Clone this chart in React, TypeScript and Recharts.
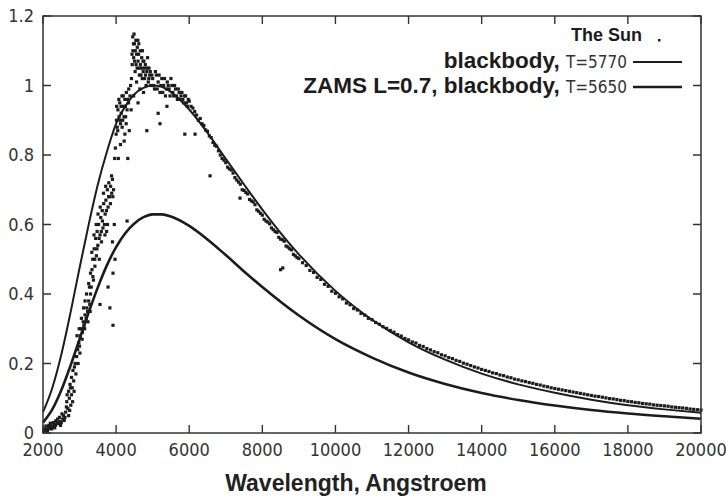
import { ComposedChart, Line, Scatter, XAxis, YAxis } from "recharts";

const WIDTH = 726;
const HEIGHT = 500;
const FONT = "'Liberation Sans', Arial, sans-serif";
const NARROW = "'Liberation Sans Narrow', 'DejaVu Sans Condensed', 'Liberation Sans', sans-serif";

// Model spectra, normalised flux vs wavelength in Angstroem
const modelWavelengths = [
  2000, 2250, 2500, 2750, 3000, 3250, 3500, 3750, 4000, 4250, 4500, 4750, 5000, 5250, 5500,
  6000, 6500, 7000, 7500, 8000, 9000, 10000, 11000, 12000, 13000, 14000, 15000, 16000, 17000,
  18000, 19000, 20000,
];
const blackbody5770 = [
  0.06, 0.128, 0.225, 0.345, 0.475, 0.6, 0.715, 0.81, 0.89, 0.94, 0.975, 0.993, 1.0, 0.996, 0.981,
  0.931, 0.864, 0.789, 0.715, 0.643, 0.514, 0.409, 0.326, 0.261, 0.211, 0.171, 0.14, 0.116, 0.096,
  0.08, 0.068, 0.058,
];
const zams5650 = [
  0.03, 0.067, 0.123, 0.193, 0.27, 0.347, 0.419, 0.483, 0.535, 0.575, 0.603, 0.621, 0.629, 0.629, 0.623,
  0.596, 0.557, 0.512, 0.465, 0.42, 0.338, 0.27, 0.217, 0.174, 0.141, 0.115, 0.095, 0.079, 0.066,
  0.056, 0.048, 0.041,
];

// Observed solar flux samples [wavelength, flux]
const sunUltraviolet: [number, number][] = [
  [2020, 0.005], [2030, 0.012], [2060, 0.01], [2080, 0.02], [2100, 0.008], [2120, 0.005], [2140, 0.015],
  [2160, 0.022], [2180, 0.012], [2200, 0.028], [2220, 0.02], [2240, 0.012], [2260, 0.018], [2280, 0.03],
  [2300, 0.025], [2320, 0.015], [2340, 0.022], [2350, 0.035], [2380, 0.03], [2400, 0.04], [2420, 0.027],
  [2450, 0.045], [2460, 0.033], [2480, 0.022], [2500, 0.03], [2520, 0.055], [2540, 0.04], [2560, 0.05],
  [2580, 0.036], [2600, 0.045], [2620, 0.06], [2640, 0.075], [2650, 0.09], [2660, 0.11], [2680, 0.07],
  [2700, 0.12], [2700, 0.05], [2720, 0.1], [2730, 0.065], [2740, 0.14], [2750, 0.13], [2760, 0.08],
  [2780, 0.16], [2780, 0.11], [2800, 0.13], [2810, 0.09], [2820, 0.18], [2840, 0.15], [2850, 0.12],
  [2860, 0.19], [2880, 0.2], [2900, 0.17], [2920, 0.22], [2930, 0.28], [2950, 0.24], [2960, 0.2],
  [2980, 0.26], [2990, 0.3], [3000, 0.25], [3010, 0.23], [3020, 0.28], [3050, 0.3], [3050, 0.33],
  [3070, 0.27], [3080, 0.29], [3100, 0.32], [3110, 0.36], [3120, 0.31], [3140, 0.3], [3150, 0.34],
  [3150, 0.38], [3180, 0.33], [3190, 0.4], [3200, 0.36], [3220, 0.35], [3230, 0.32], [3250, 0.38],
  [3250, 0.43], [3270, 0.42], [3280, 0.37], [3290, 0.35], [3300, 0.4], [3300, 0.46],
];
const sunBlue: [number, number][] = [
  [3320, 0.42], [3335, 0.52], [3340, 0.47], [3360, 0.5], [3365, 0.45], [3380, 0.44], [3395, 0.57],
  [3400, 0.53], [3415, 0.5], [3420, 0.48], [3440, 0.56], [3455, 0.6], [3460, 0.51], [3475, 0.53],
  [3480, 0.58], [3500, 0.54], [3505, 0.63], [3520, 0.6], [3535, 0.56], [3540, 0.5], [3560, 0.57],
  [3565, 0.65], [3580, 0.62], [3595, 0.58], [3600, 0.55], [3620, 0.64], [3625, 0.61], [3640, 0.59],
  [3655, 0.69], [3660, 0.66], [3680, 0.6], [3695, 0.57], [3700, 0.63], [3715, 0.71], [3720, 0.67],
  [3735, 0.64], [3740, 0.58], [3760, 0.7], [3765, 0.6], [3780, 0.65], [3795, 0.68], [3800, 0.72],
  [3820, 0.68], [3845, 0.66], [3850, 0.71], [3875, 0.74], [3880, 0.69], [3900, 0.73], [3910, 0.68],
  [3930, 0.7], [3560, 0.37], [3830, 0.36], [3915, 0.31], [3780, 0.42], [3915, 0.46], [3970, 0.5],
  [3900, 0.55], [3950, 0.6], [4300, 0.61],
  [3960, 0.79], [3980, 0.82], [4000, 0.86], [4010, 0.9], [4015, 0.94], [4030, 0.88], [4045, 0.87],
  [4050, 0.93], [4060, 0.79], [4075, 0.96], [4080, 0.91], [4100, 0.95], [4105, 0.9], [4120, 0.89],
  [4120, 0.83], [4135, 0.94], [4140, 0.92], [4160, 0.97], [4165, 0.88], [4180, 0.9], [4195, 0.97],
  [4200, 0.94], [4215, 0.91], [4220, 0.84], [4240, 0.96], [4240, 0.86], [4255, 0.94], [4260, 0.91],
  [4275, 0.89], [4280, 0.98], [4300, 0.93], [4315, 0.96], [4320, 0.79], [4340, 0.95], [4345, 0.99],
  [4360, 0.87], [4380, 0.97], [4395, 1.0], [4410, 0.93],
  [4420, 1.02], [4435, 1.09], [4440, 1.06], [4455, 1.14], [4460, 1.1], [4475, 1.12], [4480, 1.08],
  [4480, 0.97], [4490, 1.148], [4500, 1.12], [4505, 1.07], [4520, 1.04], [4525, 1.1], [4540, 1.13],
  [4545, 1.06], [4560, 1.09], [4560, 1.01], [4575, 1.05], [4580, 1.11], [4595, 1.13], [4600, 1.07],
  [4600, 0.95], [4615, 1.09], [4620, 1.12], [4635, 1.03], [4640, 1.05], [4650, 0.99], [4660, 1.1],
  [4665, 1.06], [4680, 1.03], [4695, 1.05], [4700, 1.08], [4715, 1.02], [4720, 1.1], [4735, 1.07],
  [4740, 1.04], [4750, 0.98], [4760, 1.07], [4775, 1.05], [4780, 1.02], [4800, 1.06], [4805, 1.03],
  [4820, 1.0], [4840, 1.04], [4840, 0.87], [4855, 1.05], [4860, 1.08], [4880, 1.01], [4895, 1.02],
  [4900, 1.05], [4920, 1.03], [4935, 1.04], [4950, 1.0], [4975, 1.03],
  [5000, 1.02], [5025, 1.0], [5050, 0.99], [5075, 1.04], [5100, 1.03], [5125, 0.99], [5150, 0.92],
  [5150, 1.01], [5175, 1.03], [5200, 0.89], [5200, 0.98], [5225, 1.0], [5250, 1.02], [5275, 0.98],
  [5300, 1.0], [5325, 1.02], [5350, 0.97], [5375, 0.99], [5390, 0.94], [5400, 1.01], [5425, 1.0],
  [5450, 0.99], [5475, 0.97], [5500, 1.02], [5525, 1.0], [5550, 0.98], [5575, 0.97], [5600, 1.0],
  [5625, 0.99], [5650, 0.97], [5675, 0.96], [5700, 0.99], [5725, 0.98], [5750, 0.96], [5775, 0.97],
  [5800, 0.98], [5825, 0.96], [5850, 0.95], [5875, 0.97], [5880, 0.86], [5900, 0.97], [5925, 0.95],
  [5950, 0.94], [5975, 0.96], [6160, 0.86], [6570, 0.74],
];
const sunRed: [number, number][] = [
  [6000, 0.955], [6050, 0.94], [6100, 0.935], [6150, 0.925], [6200, 0.915], [6250, 0.9], [6300, 0.905],
  [6350, 0.89], [6400, 0.885], [6450, 0.872], [6500, 0.868], [6550, 0.855], [6600, 0.85], [6650, 0.836],
  [6700, 0.828], [6750, 0.825], [6800, 0.812], [6850, 0.8], [6900, 0.79], [6950, 0.785], [7000, 0.778],
  [7050, 0.765], [7100, 0.76], [7150, 0.757], [7200, 0.748], [7250, 0.735], [7300, 0.728], [7350, 0.722],
  [7390, 0.676], [7400, 0.716], [7450, 0.7], [7500, 0.698], [7550, 0.692], [7600, 0.688], [7650, 0.672],
  [7700, 0.668], [7750, 0.665], [7800, 0.657], [7850, 0.642], [7900, 0.638], [7950, 0.632], [8000, 0.627],
  [8050, 0.615], [8100, 0.61], [8150, 0.607], [8200, 0.602], [8250, 0.59], [8300, 0.585], [8350, 0.58],
  [8400, 0.577], [8450, 0.563], [8500, 0.558], [8500, 0.47], [8550, 0.556], [8560, 0.475], [8600, 0.552],
  [8650, 0.538], [8700, 0.535], [8750, 0.53], [8800, 0.527], [8850, 0.514], [8900, 0.51], [8950, 0.505],
  [9000, 0.502], [9100, 0.49], [9200, 0.482], [9300, 0.468], [9400, 0.462], [9500, 0.448], [9600, 0.442],
  [9700, 0.428], [9800, 0.422], [9900, 0.408], [10000, 0.402], [10100, 0.392], [10200, 0.386],
  [10300, 0.374], [10400, 0.369], [10500, 0.358], [10600, 0.354], [10700, 0.344], [10800, 0.339],
  [10900, 0.33], [11000, 0.326], [11100, 0.318], [11200, 0.313], [11300, 0.306], [11400, 0.301],
  [11500, 0.295], [11600, 0.29], [11700, 0.283], [11800, 0.279], [11900, 0.272], [12000, 0.268],
];
const sunInfrared: [number, number][] = [
  [12100, 0.262], [12200, 0.259], [12300, 0.252], [12400, 0.249], [12500, 0.243], [12600, 0.239],
  [12700, 0.234], [12800, 0.231], [12900, 0.225], [13000, 0.222], [13100, 0.217], [13200, 0.214],
  [13300, 0.209], [13400, 0.206], [13500, 0.201], [13600, 0.198], [13700, 0.194], [13800, 0.19],
  [13900, 0.187], [14000, 0.183], [14100, 0.18], [14200, 0.177], [14300, 0.173], [14400, 0.171],
  [14500, 0.167], [14600, 0.165], [14700, 0.161], [14800, 0.159], [14900, 0.155], [15000, 0.153],
  [15100, 0.15], [15200, 0.148], [15300, 0.145], [15400, 0.143], [15500, 0.14], [15600, 0.138],
  [15700, 0.135], [15800, 0.133], [15900, 0.13], [16000, 0.128], [16100, 0.126], [16200, 0.124],
  [16300, 0.122], [16400, 0.12], [16500, 0.118], [16600, 0.116], [16700, 0.114], [16800, 0.112],
  [16900, 0.11], [17000, 0.108], [17100, 0.106], [17200, 0.105], [17300, 0.103], [17400, 0.101],
  [17500, 0.099], [17600, 0.098], [17700, 0.096], [17800, 0.094], [17900, 0.093], [18000, 0.091],
  [18100, 0.09], [18200, 0.088], [18300, 0.087], [18400, 0.085], [18500, 0.084], [18600, 0.083],
  [18700, 0.081], [18800, 0.08], [18900, 0.079], [19000, 0.078], [19100, 0.077], [19200, 0.075],
  [19300, 0.074], [19400, 0.073], [19500, 0.072], [19600, 0.071], [19700, 0.069], [19800, 0.068],
  [19900, 0.067], [20000, 0.066],
];

const xTicks = [2000, 4000, 6000, 8000, 10000, 12000, 14000, 16000, 18000, 20000];
const yTicks = [0, 0.2, 0.4, 0.6, 0.8, 1, 1.2];
const X_MIN = 2000;
const X_MAX = 20000;
const Y_MIN = 0;
const Y_MAX = 1.2;

const bbData = modelWavelengths.map((x, i) => ({ x, y: blackbody5770[i] }));
const zamsData = modelWavelengths.map((x, i) => ({ x, y: zams5650[i] }));
const sunData = [...sunUltraviolet, ...sunBlue, ...sunRed, ...sunInfrared].map(([x, y]) => ({ x, y }));

const AXIS = "#333333";
const INK = "#1c1c1c";
const TICK_LEN = 8;

// plot box in pixels; the chart margins below are derived from it
const PLOT = { left: 43, top: 16, right: 701, bottom: 433 };

function Dot(props: any) {
  const { cx, cy } = props;
  if (cx == null || cy == null) return null;
  return <rect x={cx - 1.6} y={cy - 1.6} width={3.2} height={3.2} fill={INK} />;
}

// gnuplot-style border with inward ticks on all four sides
function Frame() {
  const w = PLOT.right - PLOT.left;
  const h = PLOT.bottom - PLOT.top;
  const px = (v: number) => PLOT.left + ((v - X_MIN) / (X_MAX - X_MIN)) * w;
  const py = (v: number) => PLOT.bottom - ((v - Y_MIN) / (Y_MAX - Y_MIN)) * h;
  let d = "";
  xTicks.forEach((t) => {
    const x = px(t);
    d += `M${x},${PLOT.bottom}v${-TICK_LEN}M${x},${PLOT.top}v${TICK_LEN}`;
  });
  yTicks.forEach((t) => {
    const y = py(t);
    d += `M${PLOT.left},${y}h${TICK_LEN}M${PLOT.right},${y}h${-TICK_LEN}`;
  });
  return (
    <svg width={WIDTH} height={HEIGHT} style={{ position: "absolute", left: 0, top: 0, pointerEvents: "none" }}>
      <rect x={PLOT.left} y={PLOT.top} width={w} height={h} fill="none" stroke={AXIS} strokeWidth={1.5} />
      <path d={d} stroke={AXIS} strokeWidth={1.4} fill="none" />
    </svg>
  );
}

// key in the top right corner
function Key() {
  return (
    <svg width={WIDTH} height={100} style={{ position: "absolute", left: 0, top: 0, pointerEvents: "none" }}>
      <text x={642} y={41} textAnchor="end" fontFamily={FONT} fontWeight="bold" fontSize={18} fill={INK}>
        The Sun
      </text>
      <rect x={658} y={39} width={2.5} height={2.5} fill={INK} />
      <text x={627} y={68} textAnchor="end" fill={INK}>
        <tspan fontFamily={FONT} fontWeight="bold" fontSize={22.5}>blackbody, </tspan>
        <tspan fontFamily={NARROW} fontSize={17} fill="#333">T=5770</tspan>
      </text>
      <line x1={633} x2={682} y1={62} y2={62} stroke={INK} strokeWidth={2} />
      <text x={627} y={93} textAnchor="end" fill={INK}>
        <tspan fontFamily={FONT} fontWeight="bold" fontSize={22.5}>ZAMS L=0.7, blackbody, </tspan>
        <tspan fontFamily={NARROW} fontSize={17} fill="#333">T=5650</tspan>
      </text>
      <line x1={633} x2={682} y1={87} y2={87} stroke={INK} strokeWidth={2.6} />
    </svg>
  );
}

const tickStyle = { fill: "#333", fontSize: 18, fontFamily: NARROW };

export default function App() {
  return (
    <div style={{ position: "absolute", left: 0, top: 0, width: WIDTH, height: HEIGHT, background: "#fff" }}>
      <ComposedChart
        width={WIDTH}
        height={HEIGHT}
        margin={{ top: PLOT.top, right: WIDTH - PLOT.right, bottom: 0, left: 0 }}
      >
        <XAxis
          xAxisId="x"
          dataKey="x"
          type="number"
          domain={[X_MIN, X_MAX]}
          ticks={xTicks}
          interval={0}
          height={HEIGHT - PLOT.bottom}
          axisLine={false}
          tickLine={false}
          tickSize={8}
          tickMargin={2}
          tick={tickStyle}
          label={{
            value: "Wavelength, Angstroem",
            position: "insideBottom",
            offset: 9,
            dx: -16,
            style: { fontFamily: FONT, fontWeight: "bold", fontSize: 23, fill: "#222" },
          }}
        />
        <YAxis
          yAxisId="y"
          dataKey="y"
          type="number"
          domain={[Y_MIN, Y_MAX]}
          ticks={yTicks}
          interval={0}
          width={PLOT.left}
          axisLine={false}
          tickLine={false}
          tickSize={8}
          tickMargin={1}
          tick={tickStyle}
        />
        <Scatter name="The Sun" data={sunData} xAxisId="x" yAxisId="y" shape={<Dot />} isAnimationActive={false} />
        <Line
          name="blackbody, T=5770"
          data={bbData}
          dataKey="y"
          xAxisId="x"
          yAxisId="y"
          type="monotone"
          stroke={INK}
          strokeWidth={2}
          dot={false}
          isAnimationActive={false}
        />
        <Line
          name="ZAMS L=0.7, blackbody, T=5650"
          data={zamsData}
          dataKey="y"
          xAxisId="x"
          yAxisId="y"
          type="monotone"
          stroke={INK}
          strokeWidth={2.6}
          dot={false}
          isAnimationActive={false}
        />
      </ComposedChart>
      <Frame />
      <Key />
    </div>
  );
}
